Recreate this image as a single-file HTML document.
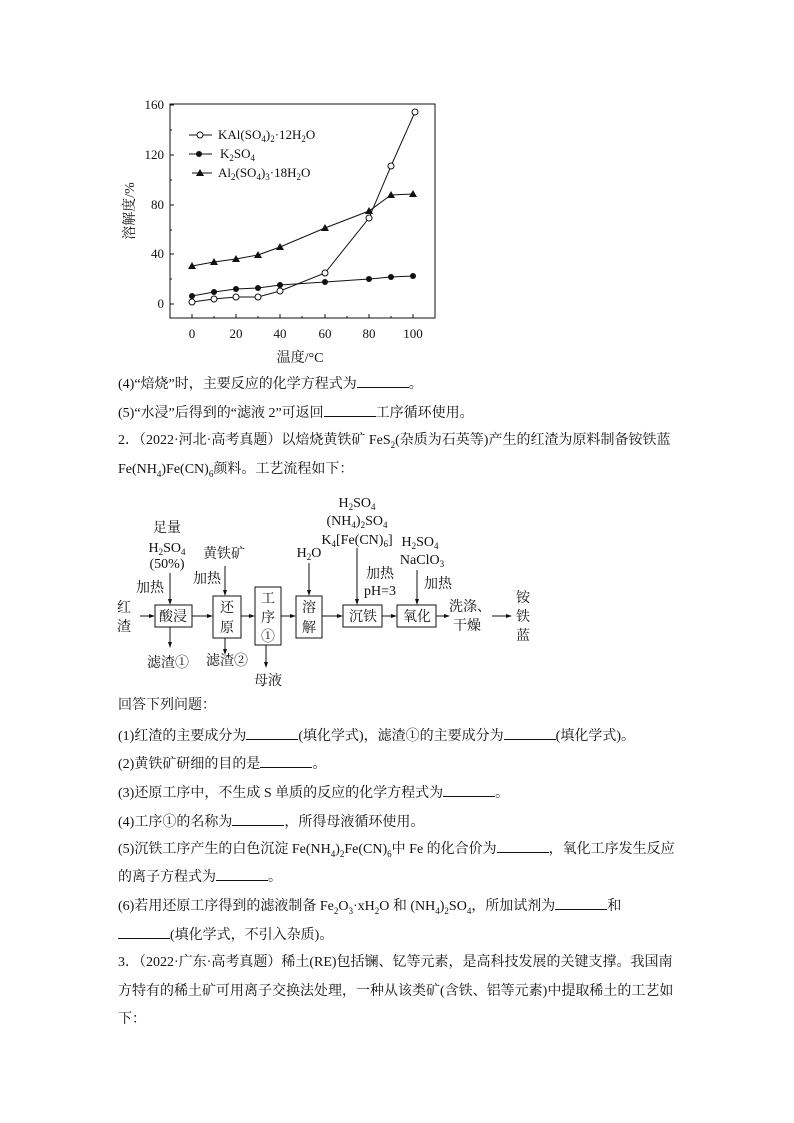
<!DOCTYPE html>
<html><head><meta charset="utf-8"><style>
body{margin:0;background:#fff;}
.pg{position:relative;width:794px;height:1123px;overflow:hidden;font-family:"Liberation Serif","Noto Serif CJK SC","Noto Sans CJK SC",serif;color:#111;}
.t{position:absolute;left:118px;font-size:14px;white-space:nowrap;line-height:16px;}
.u{display:inline-block;border-bottom:1px solid #111;width:52px;height:12px;vertical-align:baseline;}
svg text{font-family:"Liberation Serif","Noto Serif CJK SC",serif;fill:#111;}
</style></head><body><div class="pg">
<svg width="794" height="1123" style="position:absolute;left:0;top:0">
<g stroke="#111" fill="none" stroke-width="1">
<rect x="170" y="104" width="265" height="214"/>
<line x1="170" y1="105" x2="174" y2="105"/><line x1="170" y1="155" x2="174" y2="155"/><line x1="170" y1="205" x2="174" y2="205"/><line x1="170" y1="254" x2="174" y2="254"/><line x1="170" y1="304" x2="174" y2="304"/>
<line x1="170" y1="130" x2="172" y2="130"/><line x1="170" y1="180" x2="172" y2="180"/><line x1="170" y1="230" x2="172" y2="230"/><line x1="170" y1="279" x2="172" y2="279"/>
<line x1="192" y1="318" x2="192" y2="314"/><line x1="236" y1="318" x2="236" y2="314"/><line x1="280" y1="318" x2="280" y2="314"/><line x1="325" y1="318" x2="325" y2="314"/><line x1="369" y1="318" x2="369" y2="314"/><line x1="413" y1="318" x2="413" y2="314"/>
<line x1="214" y1="318" x2="214" y2="316"/><line x1="258" y1="318" x2="258" y2="316"/><line x1="302" y1="318" x2="302" y2="316"/><line x1="347" y1="318" x2="347" y2="316"/><line x1="391" y1="318" x2="391" y2="316"/>
<polyline points="192,266 214,262 236,259 258,255 280,247 325,228 369,211 391,195 413,194"/>
<polyline points="192,296 214,292 236,289 258,288 280,285 325,282 369,279 391,277 413,276"/>
<polyline points="192,302 214,299 236,297 258,297 280,291 325,273 369,218 391,166 415,112"/>
<line x1="189" y1="135" x2="212" y2="135"/><line x1="189" y1="154" x2="212" y2="154"/><line x1="192" y1="173" x2="212" y2="173"/>
</g>
<g fill="#111">
<polygon points="192,262 188,269 196,269"/><polygon points="214,258 210,265 218,265"/><polygon points="236,255 232,262 240,262"/><polygon points="258,251 254,258 262,258"/><polygon points="280,243 276,250 284,250"/><polygon points="325,224 321,231 329,231"/><polygon points="369,207 365,214 373,214"/><polygon points="391,191 387,198 395,198"/><polygon points="413,190 409,197 417,197"/><polygon points="200,169 196,176 204,176"/>
<circle cx="192" cy="296" r="3"/><circle cx="214" cy="292" r="3"/><circle cx="236" cy="289" r="3"/><circle cx="258" cy="288" r="3"/><circle cx="280" cy="285" r="3"/><circle cx="325" cy="282" r="3"/><circle cx="369" cy="279" r="3"/><circle cx="391" cy="277" r="3"/><circle cx="413" cy="276" r="3"/><circle cx="199" cy="154" r="3"/>
</g>
<g fill="#fff" stroke="#111">
<circle cx="192" cy="302" r="3"/><circle cx="214" cy="299" r="3"/><circle cx="236" cy="297" r="3"/><circle cx="258" cy="297" r="3"/><circle cx="280" cy="291" r="3"/><circle cx="325" cy="273" r="3"/><circle cx="369" cy="218" r="3"/><circle cx="391" cy="166" r="3"/><circle cx="415" cy="112" r="3"/><circle cx="200" cy="135" r="3"/>
</g>
<g font-size="13" text-anchor="end">
<text x="164" y="109">160</text><text x="164" y="159">120</text><text x="164" y="209">80</text><text x="164" y="258">40</text><text x="164" y="308">0</text>
</g>
<g font-size="13" text-anchor="middle">
<text x="192" y="338">0</text><text x="236" y="338">20</text><text x="280" y="338">40</text><text x="325" y="338">60</text><text x="369" y="338">80</text><text x="413" y="338">100</text>
<text x="300" y="362" font-size="14">温度/°C</text>
</g>
<text x="0" y="0" font-size="14" text-anchor="middle" transform="translate(134,211) rotate(-90)">溶解度/%</text>
<g font-size="13">
<text x="218" y="139">KAl(SO<tspan font-size="9" dy="3">4</tspan><tspan dy="-3">)</tspan><tspan font-size="9" dy="3">2</tspan><tspan dy="-3">·12H</tspan><tspan font-size="9" dy="3">2</tspan><tspan dy="-3">O</tspan></text>
<text x="220" y="158">K<tspan font-size="9" dy="3">2</tspan><tspan dy="-3">SO</tspan><tspan font-size="9" dy="3">4</tspan></text>
<text x="218" y="177">Al<tspan font-size="9" dy="3">2</tspan><tspan dy="-3">(SO</tspan><tspan font-size="9" dy="3">4</tspan><tspan dy="-3">)</tspan><tspan font-size="9" dy="3">3</tspan><tspan dy="-3">·18H</tspan><tspan font-size="9" dy="3">2</tspan><tspan dy="-3">O</tspan></text>
</g>
<g stroke="#111" fill="none" stroke-width="1">
<rect x="155" y="605" width="37" height="22"/>
<rect x="213" y="596" width="28" height="42"/>
<rect x="255" y="587" width="26" height="58"/>
<rect x="296" y="596" width="26" height="42"/>
<rect x="343" y="605" width="39" height="22"/>
<rect x="397" y="605" width="39" height="22"/>
<line x1="140" y1="616" x2="152" y2="616"/><line x1="192" y1="616" x2="210" y2="616"/><line x1="241" y1="616" x2="252" y2="616"/><line x1="281" y1="616" x2="293" y2="616"/><line x1="322" y1="616" x2="340" y2="616"/><line x1="382" y1="616" x2="394" y2="616"/><line x1="436" y1="616" x2="446" y2="616"/><line x1="492" y1="616" x2="508" y2="616"/>
<line x1="170" y1="573" x2="170" y2="602"/><line x1="225" y1="566" x2="225" y2="593"/><line x1="309" y1="563" x2="309" y2="593"/><line x1="357" y1="548" x2="357" y2="602"/><line x1="417" y1="570" x2="417" y2="602"/>
<line x1="170" y1="627" x2="170" y2="645"/><line x1="225" y1="638" x2="225" y2="652"/><line x1="266" y1="645" x2="266" y2="665"/>
</g>
<g fill="#111">
<polygon points="155,616 149,614 149,618"/><polygon points="213,616 207,614 207,618"/><polygon points="255,616 249,614 249,618"/><polygon points="296,616 290,614 290,618"/><polygon points="343,616 337,614 337,618"/><polygon points="397,616 391,614 391,618"/><polygon points="450,616 444,614 444,618"/><polygon points="512,616 506,614 506,618"/>
<polygon points="170,605 168,599 172,599"/><polygon points="225,596 223,590 227,590"/><polygon points="309,596 307,590 311,590"/><polygon points="357,605 355,599 359,599"/><polygon points="417,605 415,599 419,599"/>
<polygon points="170,648 168,642 172,642"/><polygon points="225,655 223,649 227,649"/><polygon points="266,668 264,662 268,662"/>
</g>
<g font-size="14" text-anchor="middle">
<text x="167" y="532">足量</text>
<text x="167" y="552">H<tspan font-size="9" dy="3">2</tspan><tspan dy="-3">SO</tspan><tspan font-size="9" dy="3">4</tspan></text>
<text x="167" y="568">(50%)</text>
<text x="150" y="592">加热</text>
<text x="124" y="612">红</text><text x="124" y="631">渣</text>
<text x="173" y="621">酸浸</text>
<text x="224" y="558">黄铁矿</text>
<text x="207" y="583">加热</text>
<text x="227" y="612">还</text><text x="227" y="632">原</text>
<text x="268" y="603">工</text><text x="268" y="622">序</text><text x="268" y="641">①</text>
<text x="309" y="557">H<tspan font-size="9" dy="3">2</tspan><tspan dy="-3">O</tspan></text>
<text x="309" y="612">溶</text><text x="309" y="632">解</text>
<text x="357" y="507">H<tspan font-size="9" dy="3">2</tspan><tspan dy="-3">SO</tspan><tspan font-size="9" dy="3">4</tspan></text>
<text x="357" y="525">(NH<tspan font-size="9" dy="3">4</tspan><tspan dy="-3">)</tspan><tspan font-size="9" dy="3">2</tspan><tspan dy="-3">SO</tspan><tspan font-size="9" dy="3">4</tspan></text>
<text x="357" y="544">K<tspan font-size="9" dy="3">4</tspan><tspan dy="-3">[Fe(CN)</tspan><tspan font-size="9" dy="3">6</tspan><tspan dy="-3">]</tspan></text>
<text x="380" y="578">加热</text><text x="380" y="595">pH=3</text>
<text x="363" y="621">沉铁</text>
<text x="420" y="546">H<tspan font-size="9" dy="3">2</tspan><tspan dy="-3">SO</tspan><tspan font-size="9" dy="3">4</tspan></text>
<text x="422" y="564">NaClO<tspan font-size="9" dy="3">3</tspan></text>
<text x="438" y="588">加热</text>
<text x="417" y="621">氧化</text>
<text x="470" y="611">洗涤、</text><text x="467" y="630">干燥</text>
<text x="523" y="602">铵</text><text x="523" y="621">铁</text><text x="523" y="640">蓝</text>
<text x="168" y="667">滤渣①</text>
<text x="227" y="665">滤渣②</text>
<text x="268" y="685">母液</text>
</g>
</svg>
<div class="t" style="top:375px">(4)“焙烧”时，主要反应的化学方程式为<span class="u"></span>。</div>
<div class="t" style="top:404px">(5)“水浸”后得到的“滤液 2”可返回<span class="u"></span>工序循环使用。</div>
<div class="t" style="top:433px">2．（2022·河北·高考真题）以焙烧黄铁矿 FeS<sub style="font-size:9px">2</sub>(杂质为石英等)产生的红渣为原料制备铵铁蓝</div>
<div class="t" style="top:462px">Fe(NH<sub style="font-size:9px">4</sub>)Fe(CN)<sub style="font-size:9px">6</sub>颜料。工艺流程如下：</div>
<div class="t" style="top:698px">回答下列问题：</div>
<div class="t" style="top:727px">(1)红渣的主要成分为<span class="u"></span>(填化学式)，滤渣①的主要成分为<span class="u"></span>(填化学式)。</div>
<div class="t" style="top:755px">(2)黄铁矿研细的目的是<span class="u"></span>。</div>
<div class="t" style="top:784px">(3)还原工序中，不生成 S 单质的反应的化学方程式为<span class="u"></span>。</div>
<div class="t" style="top:813px">(4)工序①的名称为<span class="u"></span>，所得母液循环使用。</div>
<div class="t" style="top:840px">(5)沉铁工序产生的白色沉淀 Fe(NH<sub style="font-size:9px">4</sub>)<sub style="font-size:9px">2</sub>Fe(CN)<sub style="font-size:9px">6</sub>中 Fe 的化合价为<span class="u"></span>，氧化工序发生反应</div>
<div class="t" style="top:868px">的离子方程式为<span class="u"></span>。</div>
<div class="t" style="top:897px">(6)若用还原工序得到的滤液制备 Fe<sub style="font-size:9px">2</sub>O<sub style="font-size:9px">3</sub>·xH<sub style="font-size:9px">2</sub>O 和 (NH<sub style="font-size:9px">4</sub>)<sub style="font-size:9px">2</sub>SO<sub style="font-size:9px">4</sub>，所加试剂为<span class="u"></span>和</div>
<div class="t" style="top:926px"><span class="u"></span>(填化学式，不引入杂质)。</div>
<div class="t" style="top:955px">3．（2022·广东·高考真题）稀土(RE)包括镧、钇等元素，是高科技发展的关键支撑。我国南</div>
<div class="t" style="top:984px">方特有的稀土矿可用离子交换法处理，一种从该类矿(含铁、铝等元素)中提取稀土的工艺如</div>
<div class="t" style="top:1012px">下：</div>
</div></body></html>
